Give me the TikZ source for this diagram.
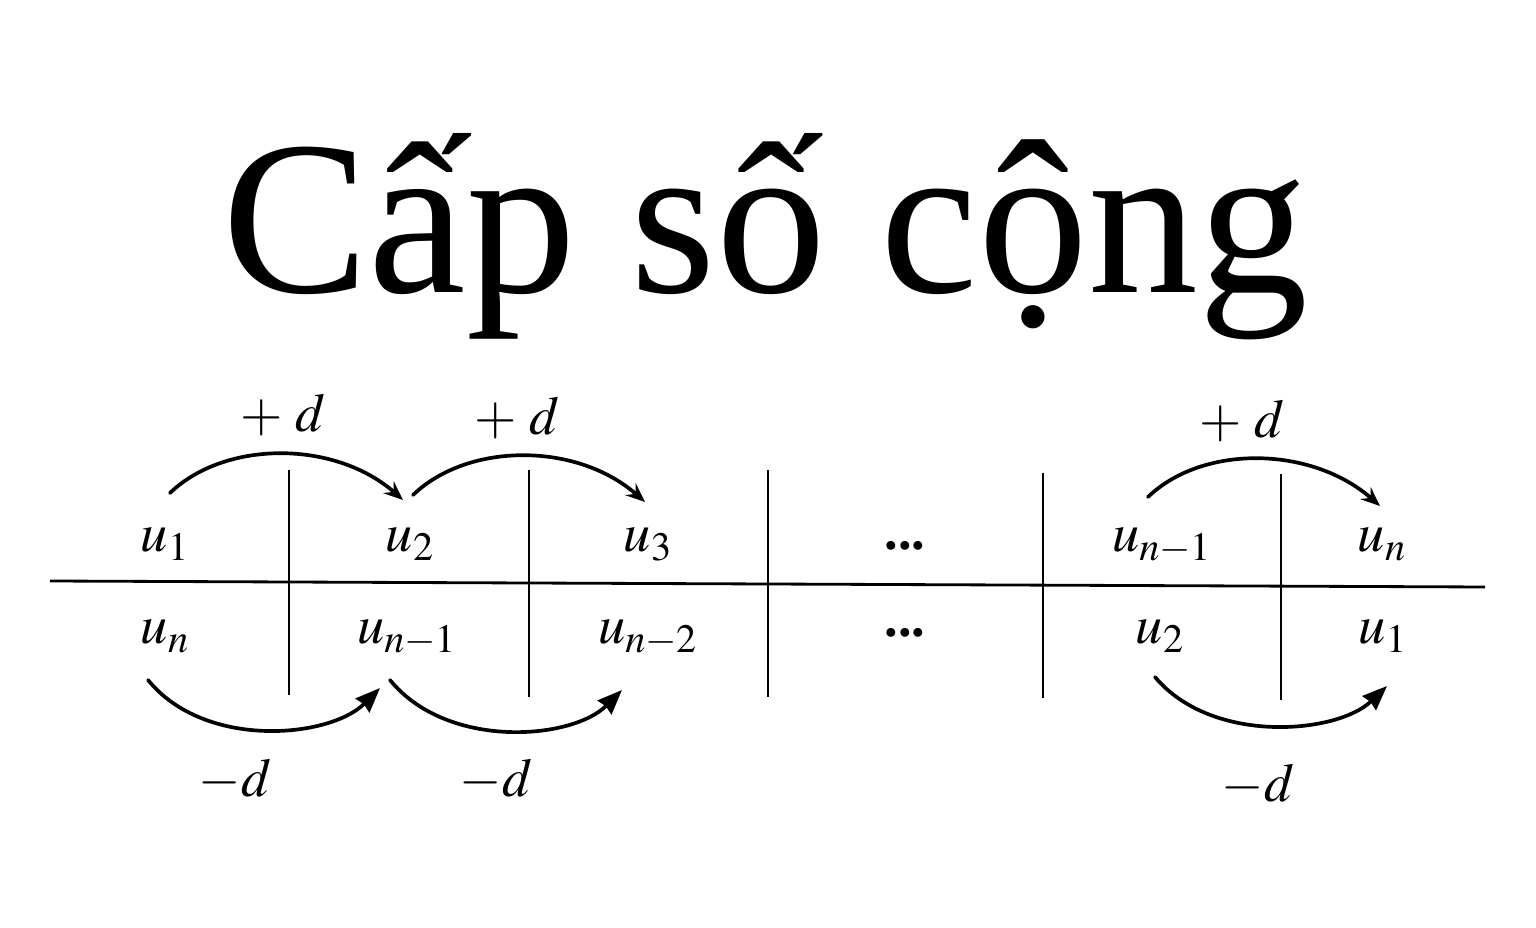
\documentclass[tikz,border=0pt]{standalone}
\usepackage{mathptmx}
\usepackage{fontspec}
\setmainfont{Liberation Serif}
\usetikzlibrary{arrows.meta}
\tikzset{
  lbl/.style={inner sep=0pt,anchor=base,font=\fontsize{31}{36}\selectfont},
  addarrow/.style={line width=2.1pt,line cap=round,-{Stealth[length=11pt,width=9pt,inset=4pt]}},
  subarrow/.style={line width=2.1pt,line cap=round,-{Stealth[length=14pt,width=11pt,inset=1pt]}},
}
\begin{document}
\begin{tikzpicture}[x=0.02cm,y=-0.02cm]
                \useasboundingbox (0,0) rectangle (1536,928);
                \node[anchor=base,inner sep=0pt,font=\fontsize{125}{125}\selectfont] (title) at (765,293) {Cấp số cộng};
                % table
                \draw[line width=1.6pt] (50,581) -- (1485,587);
                \foreach \x/\ya/\yb in {289/470/695,529/470/697,768/470/697,1043/473/698,1281/474/700}
                    \draw[line width=1.3pt] (\x,\ya) -- (\x,\yb);
                % top row
                \node[lbl] (t1) at (165,552) {$u_1$};
                \node[lbl] (t2) at (410,552) {$u_2$};
                \node[lbl] (t3) at (648,552) {$u_3$};
                \node[lbl] (t4) at (905,550) {\bfseries ...};
                \node[lbl] (t5) at (1162,552) {$u_{n-1}$};
                \node[lbl] (t6) at (1382,552) {$u_n$};
                % bottom row
                \node[lbl] (b1) at (165,644) {$u_n$};
                \node[lbl] (b2) at (407,644) {$u_{n-1}$};
                \node[lbl] (b3) at (648,644) {$u_{n-2}$};
                \node[lbl] (b4) at (905,637) {\bfseries ...};
                \node[lbl] (b5) at (1160,644) {$u_2$};
                \node[lbl] (b6) at (1383,644) {$u_1$};
                % +d arrows
                \draw[addarrow] ([shift={(5,-59)}]t1.base) .. controls +(55,-53) and +(-68,-60) .. ([shift={(-7,-52)}]t2.base);
                \draw[addarrow] ([shift={(3,-57)}]t2.base) .. controls +(55,-53) and +(-68,-60) .. ([shift={(-3,-50)}]t3.base);
                \draw[addarrow] ([shift={(-14,-55)}]t5.base) .. controls +(55,-53) and +(-68,-60) .. ([shift={(-2,-46)}]t6.base);
                \node[lbl] (p1) at (283,432) {$+\;d$};
                \node[lbl] (p2) at (517,435) {$+\;d$};
                \node[lbl] (p3) at (1242,438) {$+\;d$};
                % -d arrows
                \draw[subarrow] ([shift={(-17,36)}]b1.base) .. controls +(57,70) and +(-50,50) .. ([shift={(-27,44)}]b2.base);
                \draw[subarrow] ([shift={(-17,36)}]b2.base) .. controls +(57,70) and +(-50,50) .. ([shift={(-26,46)}]b3.base);
                \draw[subarrow] ([shift={(-5,33)}]b5.base) .. controls +(57,68) and +(-50,48) .. ([shift={(4,42)}]b6.base);
                \node[lbl] (m1) at (235,797) {$-d$};
                \node[lbl] (m2) at (496,797) {$-d$};
                \node[lbl] (m3) at (1258,802) {$-d$};
            \end{tikzpicture}
\end{document}
